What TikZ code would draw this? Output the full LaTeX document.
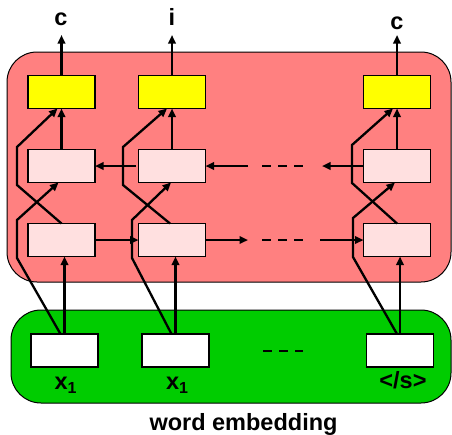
\documentclass[tikz,border=0pt]{standalone}
\usepackage{fontspec}
\setmainfont{Liberation Sans}
\usetikzlibrary{arrows.meta}
\definecolor{panelred}{HTML}{FF8080}
\definecolor{panelgreen}{HTML}{00CC00}
\definecolor{cellpink}{HTML}{FFE0E0}
\definecolor{outyellow}{HTML}{FFFF00}
\begin{document}
\begin{tikzpicture}[x=1pt,y=-1pt,
  panel/.style={draw=black, line width=1pt, rounded corners=30pt},
  cell/.style={draw=black, line width=1.8pt, minimum width=67pt, minimum height=33pt, inner sep=0pt, outer sep=0pt},
  inbox/.style={cell, fill=white},
  wire/.style={line width=2.3pt},
  conn/.style={wire, -{Triangle[length=8.5pt,width=7.5pt]}},
  gap/.style={wire, dash pattern=on 9pt off 7pt},
  lab/.style={font=\fontsize{23.5}{23.5}\selectfont\bfseries, inner sep=0pt}]
\useasboundingbox (0,0) rectangle (452,434);

% background panels
\draw[panel, fill=panelred] (7,52) rectangle (451,282);
\draw[panel, fill=panelgreen] (11,310) rectangle (451,403);

% output layer
\node[cell, fill=outyellow] (y1) at (61.5,92) {};
\node[cell, fill=outyellow] (y2) at (172,92) {};
\node[cell, fill=outyellow] (y3) at (397,92) {};
% backward LSTM
\node[cell, fill=cellpink] (b1) at (61.5,166) {};
\node[cell, fill=cellpink] (b2) at (172,166) {};
\node[cell, fill=cellpink] (b3) at (397,166) {};
% forward LSTM
\node[cell, fill=cellpink] (f1) at (61.5,240) {};
\node[cell, fill=cellpink] (f2) at (172,240) {};
\node[cell, fill=cellpink] (f3) at (397,240) {};
% embeddings
\node[inbox] (in1) at (64.5,350.5) {};
\node[inbox] (in2) at (175.5,350.5) {};
\node[inbox] (in3) at (400,350.5) {};

% labels
\node[lab, anchor=base] (oc1) at (61,25) {c};
\node[lab, anchor=base] (oi) at (172,25) {i};
\node[lab, anchor=base] (oc3) at (397,29) {c};
\node[lab, anchor=base] (lx1) at (65.5,389) {x\raisebox{-4.5pt}{\fontsize{16}{16}\selectfont 1}};
\node[lab, anchor=base] (lx2) at (177,389) {x\raisebox{-4.5pt}{\fontsize{16}{16}\selectfont 1}};
\node[lab, anchor=base] (lend) at (403,388) {</s>};
\node[lab, anchor=base] (cap) at (243.5,430) {word embedding};

% output arrows
\coordinate (t1) at (61.5,35);
\coordinate (t2) at (172,35);
\coordinate (t3) at (397,35);
\draw[conn] (y1.north) -- (t1);
\draw[conn] (y2.north) -- (t2);
\draw[conn] (y3.north) -- (t3);

% column 1
\draw[conn] (in1.north) -- (in1.north |- f1.south);
\draw[conn] ([xshift=-4pt]in1.north) -- (17,258) -- (17,220) -- ([xshift=-3pt]b1.south);
\draw[conn] (f1.north) -- (17,185) -- (17,147) -- ([xshift=-4pt]y1.south);
\draw[conn] (b1.north) -- (y1.south);

% column 2
\draw[conn] (in2.north) -- (in2.north |- f2.south);
\draw[conn] ([xshift=-4pt]in2.north) -- (132,258) -- (132,220) -- ([xshift=-1pt]b2.south);
\draw[conn] ([xshift=-2pt]f2.north) -- (123,185) -- (123,147) -- ([xshift=-5pt]y2.south);
\draw[conn] (b2.north) -- (y2.south);

% column 3
\draw[conn] (in3.north) -- (in3.north |- f3.south);
\draw[conn] ([xshift=-3pt]in3.north) -- (353,257) -- (353,218) -- ([xshift=-2pt]b3.south);
\draw[conn] (f3.north) -- (352,183) -- (352,145) -- ([xshift=-4pt]y3.south);
\draw[conn] (b3.north) -- (y3.south);

% forward recurrence
\coordinate (fa) at (248,240);
\coordinate (fb) at (320,240);
\draw[conn] (f1.east) -- (f2.west);
\draw[conn] (f2.east) -- (fa);
\draw[gap] (262,240) -- (303,240);
\draw[conn] (fb) -- (f3.west);

% backward recurrence
\coordinate (ba) at (322,166);
\coordinate (bb) at (248,166);
\draw[conn] (b3.west) -- (ba);
\draw[gap] (262,166) -- (303,166);
\draw[conn] (bb) -- (b2.east);
\draw[conn] ([xshift=-3pt]b2.west) -- (b1.east);

% elided inputs
\draw[gap] (263,351) -- (303,351);
\end{tikzpicture}
\end{document}
